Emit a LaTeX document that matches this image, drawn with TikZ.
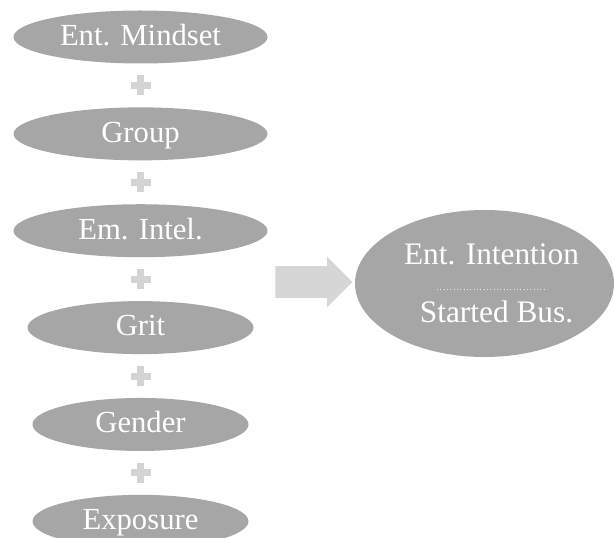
\documentclass[tikz,border=0pt]{standalone}
\usepackage{xcolor}
\usepackage{fontspec}
\setmainfont{Liberation Serif}
\usepackage{tikz}
\usetikzlibrary{shapes.geometric, shapes.arrows, positioning, calc}
\definecolor{factorgray}{RGB}{166, 166, 166}
\definecolor{plusgray}{RGB}{212, 212, 212}
\definecolor{arrowgray}{RGB}{214, 214, 214}

\begin{document}
\begin{tikzpicture}[x=0.75pt, y=-0.75pt,
    factor/.style={ellipse, fill=factorgray, text=white, inner sep=0pt,
        minimum height=53*0.75pt, text height=16pt, text depth=3.5pt,
        font=\fontsize{23}{26}\selectfont},
    outtext/.style={text=white, inner sep=0pt, anchor=base,
        font=\fontsize{23.5}{26}\selectfont}]
    \useasboundingbox (0,0) rectangle (614,538);

    % factors
    \node[factor, minimum width=254*0.75pt] (mindset) at (140.5,37) {Ent. Mindset};
    \node[factor, minimum width=254*0.75pt, below=32.5pt of mindset] (group) {Group};
    \node[factor, minimum width=254*0.75pt, below=32.5pt of group] (emintel) {Em. Intel.};
    \node[factor, minimum width=226*0.75pt, below=32.5pt of emintel] (grit) {Grit};
    \node[factor, minimum width=216*0.75pt, below=32.5pt of grit] (gender) {Gender};
    \node[factor, minimum width=216*0.75pt, below=32.5pt of gender] (exposure) {Exposure};

    % plus signs
    \foreach \a/\b [count=\i] in {mindset/group, group/emintel, emintel/grit, grit/gender, gender/exposure} {
        \coordinate (plus\i) at ($(\a)!0.5!(\b)$);
        \fill[plusgray] ($(plus\i)+(-10,-3.5)$) rectangle ($(plus\i)+(10,3.5)$);
        \fill[plusgray] ($(plus\i)+(-3.5,-10)$) rectangle ($(plus\i)+(3.5,10)$);
    }

    % outcome
    \node[ellipse, fill=factorgray, inner sep=0pt, minimum width=259*0.75pt,
          minimum height=147*0.75pt] (outcome) at (484.5,283.5) {};
    \node[outtext] (intention) at (491.5,265) {Ent. Intention};
    \node[outtext] (started) at (496.5,323) {Started Bus.};
    \draw[white!75!factorgray, dotted, line width=0.5pt] ($(outcome)+(-47.5,5.5)$) -- ($(outcome)+(62.5,5.5)$);

    \node[single arrow, fill=arrowgray, inner xsep=0pt, inner ysep=15.5*0.75pt,
          minimum height=77*0.75pt, single arrow head extend=9.5*0.75pt,
          single arrow tip angle=90] (arrow) at (306,282) {};
\end{tikzpicture}
\end{document}
